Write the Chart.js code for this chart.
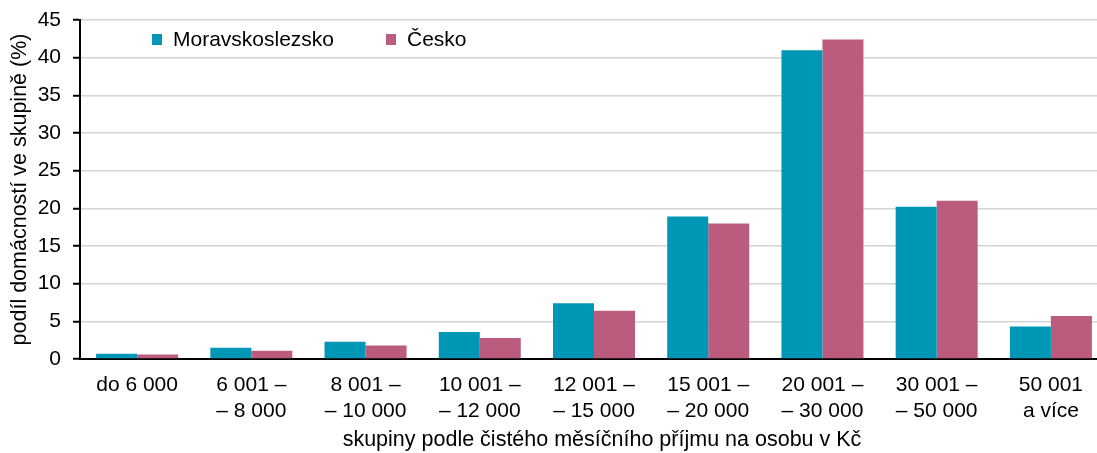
<!DOCTYPE html>
<html>
<head>
<meta charset="utf-8">
<script src="https://cdn.jsdelivr.net/npm/chart.js@4"></script>
<style>
  html, body { margin: 0; padding: 0; background: #fff; overflow: hidden; }
  #wrap { width: 1108px; height: 453px; }
</style>
</head>
<body>
<div id="wrap"><canvas id="graf" width="1108" height="453"></canvas></div>
<script>
const skupiny = [
    'do 6 000',
    ['6 001 –', '– 8 000'],
    ['8 001 –', '– 10 000'],
    ['10 001 –', '– 12 000'],
    ['12 001 –', '– 15 000'],
    ['15 001 –', '– 20 000'],
    ['20 001 –', '– 30 000'],
    ['30 001 –', '– 50 000'],
    ['50 001', 'a více']
];
const moravskoslezsko = [0.7, 1.5, 2.3, 3.6, 7.4, 18.9, 41.0, 20.2, 4.3];
const cesko = [0.6, 1.1, 1.8, 2.8, 6.4, 18.0, 42.4, 21.0, 5.7];
const nazvyRad = ['Moravskoslezsko', 'Česko'];
const barvy = ['#0097B6', '#BB5B7E'];
const popisX = 'skupiny podle čistého měsíčního příjmu na osobu v Kč';

const pismo = 'Arial, "Liberation Sans", sans-serif';

// legenda uvnitř grafu vlevo nahoře + popis osy x (posunutý jako v originálu)
const popisky = {
    id: 'popisky',
    afterDraw(chart) {
        const ctx = chart.ctx;
        const pozice = [152, 386];
        ctx.save();
        ctx.font = '21px ' + pismo;
        ctx.textBaseline = 'middle';
        ctx.textAlign = 'left';
        chart.data.datasets.forEach((ds, i) => {
            ctx.fillStyle = ds.backgroundColor;
            ctx.fillRect(pozice[i], 34, 10, 11);
            ctx.fillStyle = '#000';
            ctx.fillText(ds.label, pozice[i] + 21, 40);
        });
        ctx.font = '21.5px ' + pismo;
        ctx.textAlign = 'center';
        ctx.fillText(popisX, 602, 440);
        ctx.restore();
    }
};

const ctx = document.getElementById('graf').getContext('2d');
new Chart(ctx, {
    type: 'bar',
    data: {
        labels: skupiny,
        datasets: [{
            label: nazvyRad[0],
            data: moravskoslezsko,
            backgroundColor: barvy[0],
            borderWidth: 0
        }, {
            label: nazvyRad[1],
            data: cesko,
            backgroundColor: barvy[1],
            borderWidth: 0
        }]
    },
    options: {
        responsive: false,
        animation: false,
        layout: { padding: { top: 20, right: 0, bottom: 0, left: 0 } },
        datasets: {
            bar: { categoryPercentage: 0.718, barPercentage: 1.0 }
        },
        plugins: {
            legend: { display: false },
            tooltip: { enabled: false }
        },
        scales: {
            x: {
                grid: { display: false, drawTicks: false },
                border: { display: true, color: '#000', width: 2 },
                ticks: {
                    color: '#000',
                    font: { family: pismo, size: 21, lineHeight: 1.2 },
                    padding: 14,
                    maxRotation: 0,
                    autoSkip: false
                },
                afterFit(scale) { scale.height = 94; }
            },
            y: {
                min: 0,
                max: 45,
                ticks: {
                    stepSize: 5,
                    color: '#000',
                    font: { family: pismo, size: 21, lineHeight: 0.6 },
                    padding: 12
                },
                grid: {
                    color: '#d4d4d4',
                    lineWidth: 1.5,
                    tickLength: 7,
                    tickColor: '#000',
                    tickWidth: 2
                },
                border: { display: true, color: '#000', width: 2 },
                title: {
                    display: true,
                    text: 'podíl domácností ve skupině (%)',
                    color: '#000',
                    font: { family: pismo, size: 21.5, lineHeight: 1.2 },
                    padding: { top: 7, bottom: 0 }
                },
                afterFit(scale) { scale.width = 80; }
            }
        }
    },
    plugins: [popisky]
});
</script>
</body>
</html>
